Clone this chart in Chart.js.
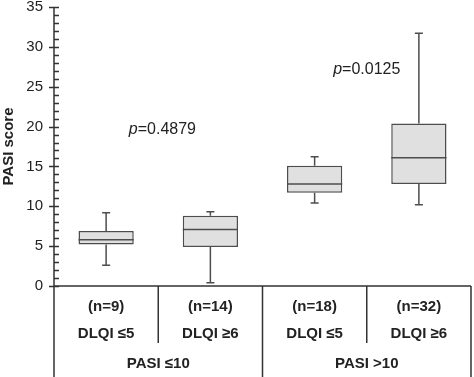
<!DOCTYPE html>
<html>
<head>
<meta charset="utf-8">
<script src="https://cdn.jsdelivr.net/npm/chart.js@4/dist/chart.umd.min.js"></script>
<style>
html,body{margin:0;padding:0;background:#fff;}
#wrap{width:474px;height:377px;}
</style>
</head>
<body>
<div id="wrap"><canvas id="c" width="474" height="377"></canvas></div>
<script>
// ---- data ----
const nLabels = ['(n=9)', '(n=14)', '(n=18)', '(n=32)'];
const dlqiLabels = ['DLQI \u22645', 'DLQI \u22656', 'DLQI \u22645', 'DLQI \u22656'];
const groupLabels = ['PASI \u226410', 'PASI >10'];
const mins    = [2.6, 0.4, 10.4, 10.2];
const q1s     = [5.2, 4.9, 11.7, 12.8];
const medians = [5.8, 7.1, 12.8, 16.1];
const q3s     = [6.9, 8.8, 15.1, 20.4];
const maxs    = [9.2, 9.3, 16.2, 31.7];
const pValues = ['=0.4879', '=0.0125'];
const pX      = [0.54, 2.5];
const pY      = [19.6, 27.2];
const yTicks  = [0, 5, 10, 15, 20, 25, 30, 35];

const FONT = '"Liberation Sans", Arial, Helvetica, sans-serif';
const INK = '#222';
const LINE = '#4d4d4d';

const boxPlugin = {
  id: 'boxExtras',
  afterDatasetsDraw(chart) {
    const ctx = chart.ctx;
    const x = chart.scales.x, y = chart.scales.y;
    const meta = chart.getDatasetMeta(0);
    ctx.save();
    ctx.strokeStyle = LINE;
    ctx.lineWidth = 1.5;
    for (let i = 0; i < nLabels.length; i++) {
      const el = meta.data[i];
      const cx = el.x, hw = el.width / 2;
      const yMin = y.getPixelForValue(mins[i]);
      const yMax = y.getPixelForValue(maxs[i]);
      const yQ1 = y.getPixelForValue(q1s[i]);
      const yQ3 = y.getPixelForValue(q3s[i]);
      const yMed = y.getPixelForValue(medians[i]);
      ctx.beginPath();
      ctx.moveTo(cx, yQ3); ctx.lineTo(cx, yMax);
      ctx.moveTo(cx - 4, yMax); ctx.lineTo(cx + 4, yMax);
      ctx.moveTo(cx, yQ1); ctx.lineTo(cx, yMin);
      ctx.moveTo(cx - 4, yMin); ctx.lineTo(cx + 4, yMin);
      ctx.moveTo(cx - hw, yMed); ctx.lineTo(cx + hw, yMed);
      ctx.stroke();
    }
    // p-values
    ctx.fillStyle = INK;
    ctx.textBaseline = 'middle';
    ctx.textAlign = 'left';
    for (let i = 0; i < pValues.length; i++) {
      const px = x.getPixelForValue(pX[i]);
      const py = y.getPixelForValue(pY[i]);
      ctx.font = 'italic 16px ' + FONT;
      const w1 = ctx.measureText('p').width;
      ctx.font = '16px ' + FONT;
      const w2 = ctx.measureText(pValues[i]).width;
      const sx = px - (w1 + w2) / 2;
      ctx.font = 'italic 16px ' + FONT;
      ctx.fillText('p', sx, py);
      ctx.font = '16px ' + FONT;
      ctx.fillText(pValues[i], sx + w1, py);
    }
    ctx.restore();
  },
  afterDraw(chart) {
    const ctx = chart.ctx;
    const x = chart.scales.x, y = chart.scales.y;
    const area = chart.chartArea;
    const H = chart.height;
    ctx.save();
    ctx.strokeStyle = '#333';
    ctx.lineWidth = 1.5;
    const ax = area.left;
    ctx.beginPath();
    ctx.moveTo(ax, y.getPixelForValue(35)); ctx.lineTo(ax, H);
    for (let v = 0; v <= 35; v++) {
      const py = Math.round(y.getPixelForValue(v)) + 0.5;
      if (v % 5 === 0) { ctx.moveTo(ax - 5, py); ctx.lineTo(ax + 5, py); }
      else { ctx.moveTo(ax, py); ctx.lineTo(ax + 5, py); }
    }
    const bottom = area.bottom;
    const right = area.right;
    ctx.moveTo(ax, bottom); ctx.lineTo(right, bottom);
    ctx.moveTo(right, bottom); ctx.lineTo(right, H);
    const mid = x.getPixelForValue(1.5);
    ctx.moveTo(mid, bottom); ctx.lineTo(mid, H);
    const d1 = x.getPixelForValue(0.5), d2 = x.getPixelForValue(2.5);
    ctx.moveTo(d1, bottom); ctx.lineTo(d1, bottom + 57);
    ctx.moveTo(d2, bottom); ctx.lineTo(d2, bottom + 57);
    ctx.stroke();
    ctx.fillStyle = INK;
    ctx.font = 'bold 15px ' + FONT;
    ctx.textAlign = 'center';
    ctx.textBaseline = 'middle';
    ctx.fillText(groupLabels[0], (ax + mid) / 2, bottom + 78);
    ctx.fillText(groupLabels[1], (mid + right) / 2, bottom + 78);
    ctx.restore();
  }
};

new Chart(document.getElementById('c'), {
  type: 'bar',
  data: {
    labels: nLabels.map((n, i) => [n, dlqiLabels[i]]),
    datasets: [{
      data: q1s.map((q, i) => [q, q3s[i]]),
      backgroundColor: '#e0e0e0',
      borderColor: LINE,
      borderWidth: 1.5,
      borderSkipped: false,
      categoryPercentage: 1,
      barPercentage: 0.53
    }]
  },
  options: {
    responsive: false,
    animation: false,
    devicePixelRatio: 1,
    layout: { padding: { top: 7, right: 3, left: 0, bottom: 0 } },
    plugins: { legend: { display: false }, tooltip: { enabled: false } },
    scales: {
      x: {
        grid: { display: false, drawTicks: false },
        border: { display: false },
        ticks: {
          color: INK,
          font: { family: FONT, size: 15, weight: 'bold', lineHeight: 1.8 },
          padding: 7,
          maxRotation: 0,
          autoSkip: false
        },
        afterFit(s) { s.height = 91; s.paddingTop = 0; s.paddingBottom = 0; }
      },
      y: {
        min: 0, max: 35,
        afterBuildTicks(s) { s.ticks = yTicks.map(v => ({ value: v })); },
        grid: { display: false, drawTicks: false },
        border: { display: false },
        ticks: {
          color: INK,
          font: { family: FONT, size: 15, lineHeight: 1 },
          padding: 11
        },
        title: {
          display: true,
          text: 'PASI score',
          color: INK,
          font: { family: FONT, size: 15, weight: 'bold' },
          padding: { top: 0, bottom: 0 }
        },
        afterFit(s) { s.width = 54; s.paddingTop = 0; s.paddingBottom = 0; }
      }
    }
  },
  plugins: [boxPlugin]
});
</script>
</body>
</html>
